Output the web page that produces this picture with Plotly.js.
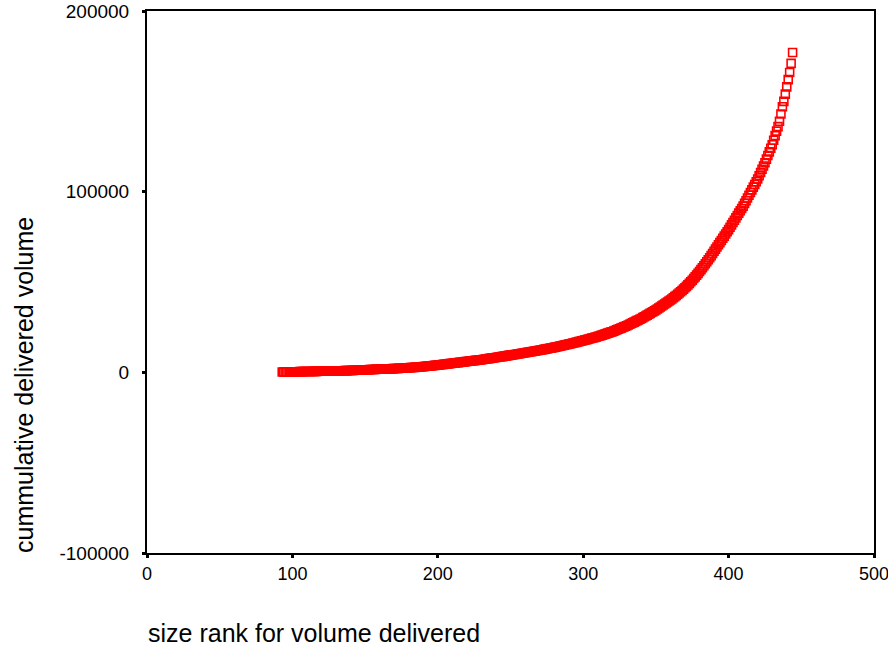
<!DOCTYPE html>
<html>
<head>
<meta charset="utf-8">
<script src="https://cdn.plot.ly/plotly-3.0.1.min.js"></script>
<style>html,body{margin:0;padding:0;background:#fff;}#chart{width:888px;height:650px;}</style>
</head>
<body>
<div id="chart"></div>
<script>
// size rank (x) and cumulative delivered volume (y)
var rankStart = 93;
var cumVolume = [
  200, 210, 225, 240, 250, 265, 280, 300,
  315, 330, 345, 360, 375, 390, 405, 420, 435, 450,
  465, 480, 495, 510, 525, 540, 555, 570, 585, 600,
  620, 640, 660, 680, 700, 720, 740, 760, 780, 800,
  820, 840, 860, 880, 900, 920, 940, 960, 980, 1000,
  1040, 1080, 1120, 1160, 1200, 1240, 1280, 1320, 1360, 1400,
  1433, 1466, 1500, 1533, 1566, 1600, 1633, 1666, 1700, 1733, 1766, 1800, 1833, 1866, 1900,
  1936, 1972, 2008, 2044, 2080, 2116, 2152, 2188, 2224, 2260, 2300,
  2358, 2416, 2474, 2532, 2590, 2648, 2706, 2764, 2822, 2880, 2940, 3000,
  3083, 3166, 3250, 3333, 3416, 3500, 3583, 3666, 3750, 3833, 3916, 4000,
  4100, 4200, 4300, 4400, 4500, 4600, 4700, 4800, 4900, 5000,
  5100, 5200, 5300, 5400, 5500, 5600, 5700, 5800, 5900, 6000,
  6100, 6200, 6300, 6400, 6500, 6600, 6700, 6800, 6900, 7000,
  7120, 7240, 7360, 7480, 7600, 7720, 7840, 7960, 8080, 8200,
  8330, 8460, 8590, 8720, 8850, 8980, 9110, 9240, 9370, 9500,
  9630, 9760, 9890, 10020, 10150, 10280, 10410, 10540, 10670, 10800,
  10940, 11080, 11220, 11360, 11500, 11640, 11780, 11920, 12060, 12200,
  12360, 12520, 12680, 12840, 13000, 13160, 13320, 13480, 13640, 13800,
  13980, 14160, 14340, 14520, 14700, 14880, 15060, 15240, 15420, 15600,
  15800, 16000, 16200, 16400, 16600, 16800, 17000, 17200, 17400, 17600,
  17820, 18040, 18260, 18480, 18700, 18920, 19140, 19360, 19580, 19800,
  20070, 20340, 20610, 20880, 21150, 21420, 21690, 21960, 22230, 22500,
  22830, 23160, 23490, 23820, 24150, 24480, 24810, 25140, 25470, 25800,
  26200, 26600, 27000, 27400, 27800, 28200, 28600, 29000, 29400, 29800,
  30270, 30740, 31210, 31680, 32150, 32620, 33090, 33560, 34030, 34500,
  35050, 35600, 36150, 36700, 37250, 37800, 38350, 38900, 39450, 40000,
  40600, 41250, 41900, 42550, 43200, 43900, 44600, 45300, 46050, 46800,
  47600, 48400, 49250, 50100, 51000, 51900, 52850, 53800, 54800, 55800,
  56850, 57900, 59000, 60100, 61200, 62300, 63450, 64600, 65800, 67000,
  68200, 69400, 70600, 71800, 73000, 74200, 75400, 76600, 77800, 79000,
  80300, 81600, 82900, 84200, 85500, 86800, 88100, 89400, 90700, 92000,
  93500, 95000, 96500, 98000, 99500, 101000, 102500, 104000, 105500, 107000,
  108800, 110600, 112400, 114200, 116000, 118000, 120000, 122000, 124000, 126000,
  128500, 131000, 133500, 136000, 139000, 143000, 147000, 150000, 154000, 158000,
  162000, 166000, 171000, 177000
];
var sizeRank = cumVolume.map(function (v, i) { return rankStart + i; });

var xTicks = [0, 100, 200, 300, 400, 500];
var yTicks = [-100000, 0, 100000, 200000];

var trace = {
  type: 'scatter',
  mode: 'markers',
  x: sizeRank,
  y: cumVolume,
  marker: {
    symbol: 'square-open',
    size: 8,
    color: '#ff0000',
    line: {color: '#ff0000', width: 1.6}
  },
  hoverinfo: 'x+y'
};

var fontFam = '"Liberation Sans", Arial, sans-serif';

var layout = {
  width: 888,
  height: 650,
  margin: {l: 147, r: 14, t: 11, b: 97, pad: 0},
  paper_bgcolor: '#ffffff',
  plot_bgcolor: '#ffffff',
  showlegend: false,
  font: {family: fontFam, color: '#000000', size: 19},
  xaxis: {
    range: [0, 500],
    tickvals: xTicks,
    ticktext: xTicks.map(String),
    showgrid: false,
    zeroline: false,
    showline: true,
    linecolor: '#000000',
    linewidth: 2,
    mirror: true,
    ticks: 'outside',
    ticklen: 3,
    tickwidth: 3,
    tickcolor: '#000000',
    ticklabelshift: -2.5,
    ticklabeloverflow: 'allow',
    automargin: false,
    tickfont: {family: fontFam, size: 18, color: '#000000'}
  },
  yaxis: {
    range: [-100000, 200000],
    tickvals: yTicks,
    ticktext: yTicks.map(String),
    showgrid: false,
    zeroline: false,
    showline: true,
    linecolor: '#000000',
    linewidth: 2,
    mirror: true,
    ticks: 'outside',
    ticklen: 3,
    tickwidth: 3,
    tickcolor: '#000000',
    ticklabelstandoff: 9,
    ticklabeloverflow: 'allow',
    automargin: false,
    tickfont: {family: fontFam, size: 19, color: '#000000'}
  },
  annotations: [
    {
      text: 'size rank for volume delivered',
      xref: 'paper', yref: 'paper',
      x: (146 - 147) / 727, y: -(633 - 553) / 542,
      xanchor: 'left', yanchor: 'middle',
      showarrow: false,
      font: {family: fontFam, size: 25, color: '#000000'}
    },
    {
      text: 'cummulative delivered volume',
      xref: 'paper', yref: 'paper',
      x: -(147 - 24) / 727, y: (553 - 385) / 542,
      xanchor: 'center', yanchor: 'middle',
      textangle: -90,
      showarrow: false,
      font: {family: fontFam, size: 25, color: '#000000'}
    }
  ]
};

Plotly.newPlot('chart', [trace], layout, {displayModeBar: false, staticPlot: true});
</script>
</body>
</html>
